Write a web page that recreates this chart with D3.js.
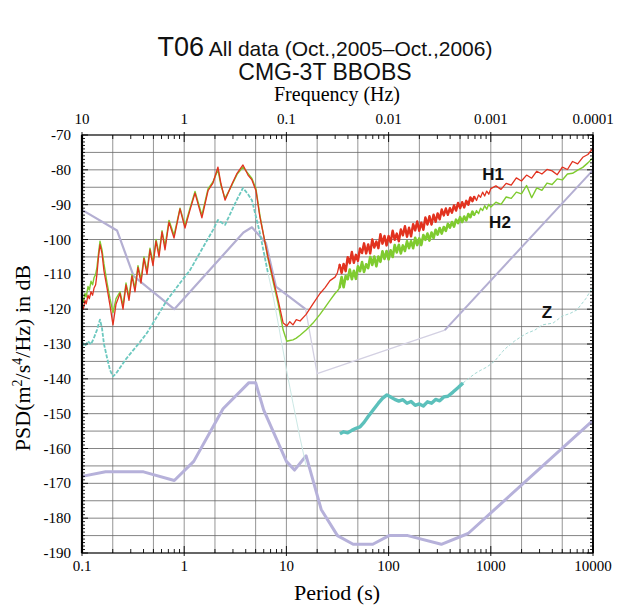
<!DOCTYPE html>
<html><head><meta charset="utf-8">
<script src="https://cdn.jsdelivr.net/npm/d3@7/dist/d3.min.js"></script>
<style>body{margin:0;background:#fff}svg{display:block}</style>
</head><body>
<svg id="chart" width="623" height="607"></svg>
<script>
// ---------- tick labels ----------
const periodTicks = [0.1, 1, 10, 100, 1000, 10000];
const periodTickLabels = ["0.1", "1", "10", "100", "1000", "10000"];
const freqTicks = [10, 1, 0.1, 0.01, 0.001, 0.0001];
const freqTickLabels = ["10", "1", "0.1", "0.01", "0.001", "0.0001"];
const dbTicks = [-190, -180, -170, -160, -150, -140, -130, -120, -110, -100, -90, -80, -70];

// ---------- H1 / H2 (shared period samples) ----------
const hPeriods = [
  0.100,0.103,0.107,0.110,0.1145,0.118,0.1225,0.127,0.131,0.136,0.140,0.145,0.150,0.157,0.164,0.176,0.188,0.201,0.2153,
  0.2355,0.252,0.2695,0.2884,0.3085,0.330,0.353,0.378,0.404,0.4326,0.4627,0.495,0.530,0.567,0.607,0.649,0.710,0.795,0.910,1.018,1.14,1.276,1.49,1.71,1.91,2.14,2.29,2.51,2.94,3.29,3.76,4.21,4.6,5.04,5.5,6.6,8.3,9.3,10.1,
  10.8,11.6,12.5,13.6,15.6,18.2,21.3,23.9,26.7,29.9,31.5,
  33.1,34.7,36.3,38.0,39.8,41.7,43.7,45.7,47.9,50.1,52.5,55.0,57.5,60.3,63.1,66.1,69.2,72.4,75.9,79.4,83.2,87.1,91.2,95.5,100,
  104.7,109.6,114.8,120.2,125.9,131.8,138.0,144.5,151.4,158.5,166.0,173.8,182.0,190.5,199.5,208.9,218.8,229.1,239.9,251.2,263.0,275.4,288.4,302.0,316.2,331.1,346.7,363.1,380.2,398.1,416.9,436.5,457.1,478.6,501.2,524.8,549.5,575.4,602.6,631.0,660.7,691.8,724.4,758.6,794.3,831.8,871.0,912.0,955.0,1000,
  1122,1259,1413,1585,1778,1995,2239,2512,2818,3162,3548,3981,4467,5012,5623,6310,7079,7943,8913,10000
];
const h1Db = [
  -119.5,-120,-117.5,-118.5,-116,-117,-115,-116,-114,-113,-110,-105,-101.5,-104,-109,-114,-119,-124.5,-118.5,
  -115.5,-120,-113,-117.5,-110.5,-115,-108,-112.5,-105.5,-110,-103,-107.5,-100.5,-105,-97.8,-103,-95,-99.6,-91.2,-96.7,-91.5,-86.7,-93.8,-86,-83.8,-79.2,-84,-88.7,-84,-81,-78.6,-81.5,-82.9,-86,-93.5,-105,-117.4,-124,-124.8,
  -123.6,-124.5,-123.0,-123.4,-121.5,-118.5,-115.5,-113.8,-111.8,-110.8,-109.6,
  -107.1,-109.6,-107.0,-109.1,-105.1,-106.8,-103.6,-106.7,-104.4,-106.1,-102.6,-103.9,-101.1,-104.0,-101.4,-104.0,-100.0,-102.3,-100.6,-102.5,-98.5,-101.2,-99.0,-101.7,-99.0,
  -100.8,-97.5,-100.1,-98.3,-100.5,-97.1,-98.8,-96.2,-99.2,-96.6,-99.1,-95.6,-97.4,-94.8,-97.5,-95.2,-97.2,-93.7,-95.7,-93.3,-95.7,-92.9,-94.9,-92.5,-94.2,-91.4,-93.1,-91.1,-92.9,-91.0,-92.3,-90.2,-91.7,-89.5,-91.0,-89.3,-90.8,-88.9,-90.0,-87.9,-89.0,-87.6,-88.8,-87.2,-87.9,-86.4,-87.5,-86.1,-87.0,-85.4,
  -84.6,-85.6,-83.9,-84.4,-82.3,-83.2,-81.5,-82.4,-80.4,-81.2,-79.9,-80.3,-81.4,-79.2,-79.9,-77.6,-78.3,-76.4,-75.6,-73.8
];
const h2Db = [
  -117.5,-118,-115.5,-116.5,-113.5,-114.5,-112,-113,-111,-110,-108,-104,-100.5,-103,-107,-112.5,-117,-121,-117,
  -115,-119,-112.5,-116.5,-110,-114,-107.5,-111.5,-105,-109,-102.5,-106.5,-100,-104,-97.5,-102,-94.5,-98.8,-91,-96,-91,-86.2,-93,-85.5,-83.5,-80,-84.5,-88.2,-84.3,-81.3,-79.2,-81,-82.5,-85.5,-93,-105.5,-118.5,-126,-129.2,
  -129.0,-128.8,-128.3,-127.5,-126,-124,-121.5,-119.5,-117.5,-115.5,-114.8,
  -113.9,-110.8,-113.7,-110.5,-111.4,-108.6,-111.4,-109.0,-111.3,-107.7,-109.1,-106.5,-109.3,-107.1,-108.2,-105.0,-107.3,-104.9,-107.7,-104.9,-106.4,-103.4,-105.6,-103.3,-105.7,
  -103.1,-105.0,-101.6,-103.7,-101.5,-104.0,-101.7,-103.3,-100.5,-102.5,-100.5,-102.5,-99.5,-101.6,-99.7,-101.6,-98.7,-100.1,-98.3,-100.3,-98.0,-99.6,-97.2,-98.6,-96.7,-98.3,-96.4,-97.5,-95.5,-96.6,-95.0,-96.3,-94.3,-95.3,-93.6,-95.0,-93.4,-94.5,-92.7,-93.6,-92.0,-93.1,-91.7,-92.6,-91.0,-91.7,-90.3,-91.3,-89.9,-90.7,
  -89.3,-89.9,-87.8,-88.2,-86.4,-86.9,-84.5,-88.0,-85.2,-85.9,-83.8,-84.2,-82.6,-82.9,-81.2,-81.0,-80.1,-79.3,-78.0,-76.5
];

// ---------- Z ----------
const zLowPeriods = [0.100,0.107,0.1145,0.1225,0.131,0.140,0.150,0.157,0.164,0.176,0.188,0.201,0.2153,0.2695,0.3085,0.37,0.4326,0.530,0.679,0.910,1.14,1.49,1.91,2.14,2.51,2.94,3.29,3.76,4.21,4.6,5.5,6.6];
const zLowDb = [-129.4,-130.6,-129.2,-130.1,-128.2,-126.0,-123.0,-125.5,-130.0,-134.0,-137.5,-139.3,-138.5,-134.3,-132.2,-129.4,-126.8,-122.6,-117.4,-112.5,-108.8,-102.8,-97.3,-94.4,-95.8,-91.5,-88.5,-85.2,-87,-88.7,-98.1,-109.6];
const zTailPeriods = [6.6,7.5,8.3,9.3,10.1,11.6,13.6,15.6];
const zTailDb = [-109.6,-117,-124,-132,-138,-147,-157,-165];
const zLongPeriods = [33.4,36.3,39.8,43.7,47.9,52.5,57.5,63.1,70.3,79.4,87.1,96.3,104.7,114.8,125.9,138.0,151.4,166.0,182.0,199.5,218.8,239.9,263.0,288.4,316.2,346.7,380.2,427,480,535];
const zLongDb = [-155.8,-155.2,-155.5,-154.8,-154.2,-153.8,-152.5,-150.8,-149.0,-147.0,-145.6,-144.6,-145.2,-145.9,-146.4,-146.0,-147.0,-146.5,-147.6,-147.2,-147.8,-146.6,-147.0,-145.9,-146.3,-145.2,-145.0,-143.8,-142.5,-141.2];
const zFaintPeriods = [535,600,700,800,918,1100,1300,1442,1700,2000,2261,2700,3200,4064,5000,6000,6970,8500,9770];
const zFaintDb = [-141.2,-140.0,-138.5,-137.5,-136.6,-134.8,-132.2,-130.9,-129.2,-127.8,-126.9,-126.0,-124.5,-124.0,-122.0,-121.2,-120.2,-117,-114];

// ---------- noise models ----------
const nhnmPeriods = [0.1,0.22,0.32,0.8,3.8,4.6,6.3,7.9,15.4,20,354.8,10000];
const nhnmDb = [-91.5,-97.4,-110.5,-120.0,-98.0,-96.5,-101.0,-113.5,-120.0,-138.5,-126.0,-80.1];
const nlnmPeriods = [0.1,0.17,0.4,0.8,1.24,2.4,4.3,5.0,6.0,10,12,15.6,21.9,31.6,45,70,101,154,328,600,10000];
const nlnmDb = [-168.0,-166.7,-166.7,-169.2,-163.7,-148.6,-141.1,-141.1,-149.0,-163.7,-166.2,-162.1,-177.5,-185.0,-187.5,-187.5,-185.0,-185.0,-187.5,-184.4,-151.9];

// ---------- chart ----------
const svg = d3.select("#chart");
const L = 82, R = 593, T = 135, B = 553;
const x = d3.scaleLog().domain([0.1, 10000]).range([L, R]);
const xf = d3.scaleLog().domain([10, 0.0001]).range([L, R]);
const y = d3.scaleLinear().domain([-190, -70]).range([B, T]);

svg.append("rect").attr("width", 623).attr("height", 607).attr("fill", "#fff");

// grid
const gridG = svg.append("g");
const decades = [0.1, 1, 10, 100, 1000];
const gridPeriods = [];
decades.forEach(d => [1, 2, 5].forEach(k => gridPeriods.push(d * k)));
gridG.selectAll("line.v").data(gridPeriods.filter(p => p > 0.1)).join("line")
  .attr("x1", d => x(d)).attr("x2", d => x(d)).attr("y1", T).attr("y2", B)
  .attr("stroke", "#7a7a7a").attr("stroke-width", 0.8);
const hGrid = d3.range(-185, -70, 5);
gridG.selectAll("line.h").data(hGrid).join("line")
  .attr("x1", L).attr("x2", R).attr("y1", d => y(d)).attr("y2", d => y(d))
  .attr("stroke", "#666").attr("stroke-width", 0.8);

const line = (ps, vs) => d3.line().x((d, i) => x(ps[i])).y(d => y(d))(vs);
const path = (ps, vs, col, w, extra) => {
  const p = svg.append("path").attr("d", line(ps, vs)).attr("fill", "none")
    .attr("stroke", col).attr("stroke-width", w).attr("stroke-linejoin", "round");
  if (extra) Object.entries(extra).forEach(([k, v]) => p.attr(k, v));
  return p;
};

// noise models (NHNM drawn in pieces of differing strength as in the scan)
path(nhnmPeriods.slice(0, 9), nhnmDb.slice(0, 9), "#b4afd2", 2.2);
path(nhnmPeriods.slice(8, 11), nhnmDb.slice(8, 11), "#d3d0e2", 1.3);
path(nhnmPeriods.slice(10), nhnmDb.slice(10), "#b4afd2", 2);
path(nlnmPeriods, nlnmDb, "#b6b1da", 3);

// Z
path(zLowPeriods, zLowDb, "#6cc8bf", 1.8, {"stroke-dasharray": "4,1.5"});
path(zTailPeriods, zTailDb, "#cbe8e5", 1);
path(zLongPeriods, zLongDb, "#5cc0bb", 3.4);
path(zFaintPeriods, zFaintDb, "#a3d8d3", 1, {"stroke-dasharray": "3,2"});

// H2, H1 ; the dense noisy band (33–700 s) drawn thicker
const band = (vs) => {
  const idx = hPeriods.map((p, i) => i).filter(i => hPeriods[i] >= 33 && hPeriods[i] <= 700);
  return [idx.map(i => hPeriods[i]), idx.map(i => vs[i])];
};
path(hPeriods, h2Db, "#7fcb2f", 1.4);
path(...band(h2Db), "#7fcb2f", 2.6);
path(hPeriods, h1Db, "#e2321f", 1.3);
path(...band(h1Db), "#e2321f", 2.4);

// frame
svg.append("rect").attr("x", L).attr("y", T).attr("width", R - L).attr("height", B - T)
  .attr("fill", "none").attr("stroke", "#000").attr("stroke-width", 1.2);
svg.append("line").attr("x1", L).attr("x2", L).attr("y1", T).attr("y2", B).attr("stroke", "#000").attr("stroke-width", 2.2);
svg.append("line").attr("x1", R).attr("x2", R).attr("y1", T).attr("y2", B).attr("stroke", "#000").attr("stroke-width", 1.8);

// minor ticks
const minorP = [];
decades.forEach(d => d3.range(2, 10).forEach(k => minorP.push(d * k)));
const tg = svg.append("g").attr("stroke", "#000").attr("stroke-width", 0.9);
minorP.forEach(p => {
  tg.append("line").attr("x1", x(p)).attr("x2", x(p)).attr("y1", T).attr("y2", T + 4);
  tg.append("line").attr("x1", x(p)).attr("x2", x(p)).attr("y1", B).attr("y2", B - 4);
});
periodTicks.forEach(p => {
  tg.append("line").attr("x1", x(p)).attr("x2", x(p)).attr("y1", T - 3).attr("y2", T + 7);
  tg.append("line").attr("x1", x(p)).attr("x2", x(p)).attr("y1", B + 3).attr("y2", B - 7);
});
d3.range(-190, -69, 1).forEach(v => {
  const len = v % 10 === 0 ? 6 : 3;
  tg.append("line").attr("x1", L).attr("x2", L + len).attr("y1", y(v)).attr("y2", y(v));
  tg.append("line").attr("x1", R).attr("x2", R - len).attr("y1", y(v)).attr("y2", y(v));
});

// axis labels
const serif = "'Liberation Serif','DejaVu Serif',serif";
const sans = "'Liberation Sans',Arial,sans-serif";
svg.append("g").selectAll("text").data(dbTicks).join("text")
  .attr("x", L - 11).attr("y", d => y(d) + 5).attr("text-anchor", "end")
  .attr("font-family", serif).attr("font-size", 15).text(d => d);
svg.append("g").selectAll("text").data(periodTicks).join("text")
  .attr("x", d => x(d)).attr("y", B + 18).attr("text-anchor", "middle")
  .attr("font-family", serif).attr("font-size", 15).text((d, i) => periodTickLabels[i]);
svg.append("g").selectAll("text").data(freqTicks).join("text")
  .attr("x", d => xf(d)).attr("y", T - 11).attr("text-anchor", "middle")
  .attr("font-family", serif).attr("font-size", 15).text((d, i) => freqTickLabels[i]);

svg.append("text").attr("x", 337).attr("y", 101).attr("text-anchor", "middle")
  .attr("font-family", serif).attr("font-size", 20).text("Frequency (Hz)");
svg.append("text").attr("x", 337).attr("y", 600).attr("text-anchor", "middle")
  .attr("font-family", serif).attr("font-size", 22).text("Period (s)");

const yl = svg.append("text").attr("transform", "translate(30,358) rotate(-90)")
  .attr("text-anchor", "middle").attr("font-family", serif).attr("font-size", 22);
yl.append("tspan").text("PSD(m");
yl.append("tspan").attr("dy", -8).attr("font-size", 14).text("2");
yl.append("tspan").attr("dy", 8).text("/s");
yl.append("tspan").attr("dy", -8).attr("font-size", 14).text("4");
yl.append("tspan").attr("dy", 8).text("/Hz) in dB");

const t1 = svg.append("text").attr("x", 325).attr("y", 56).attr("text-anchor", "middle")
  .attr("font-family", sans).attr("font-size", 21).attr("fill", "#111");
t1.append("tspan").attr("font-size", 27).text("T06");
t1.append("tspan").text(" All data (Oct.,2005\u2013Oct.,2006)");
svg.append("text").attr("x", 325).attr("y", 80).attr("text-anchor", "middle")
  .attr("font-family", sans).attr("font-size", 23).attr("fill", "#111").text("CMG-3T BBOBS");

// series labels
const lab = (t, p, v) => svg.append("text").attr("x", x(p)).attr("y", y(v)).attr("text-anchor", "middle")
  .attr("font-family", sans).attr("font-weight", "bold").attr("font-size", 17).attr("fill", "#111").text(t);
lab("H1", 1052, -83);
lab("H2", 1230, -96.8);
lab("Z", 3548, -122.5);
</script>
</body></html>
